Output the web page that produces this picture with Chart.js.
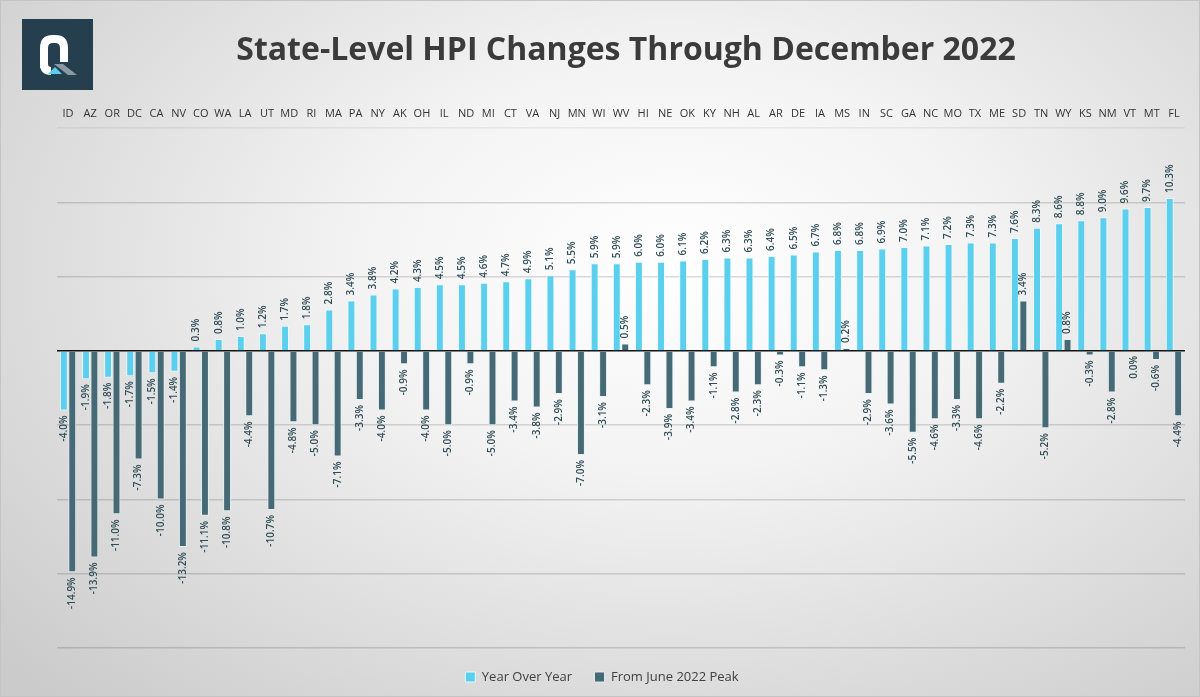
<!DOCTYPE html>
<html>
<head>
<meta charset="utf-8">
<script src="https://cdn.jsdelivr.net/npm/chart.js@4.4.0/dist/chart.umd.min.js"></script>
<style>
  html, body { margin: 0; padding: 0; }
  body {
    width: 1200px; height: 697px; overflow: hidden; position: relative;
    background: radial-gradient(ellipse 75% 85% at 56% 38%, #ffffff 0%, #f3f3f3 35%, #dddddd 70%, #cbcbcb 100%);
  }
  #wrap { position: absolute; left: 0; top: 0; width: 1200px; height: 697px; }
  #logo { position: absolute; left: 22px; top: 19px; width: 71px; height: 71px; }
  #title {
    position: absolute; left: 226px; width: 800px; top: 26px; height: 44px; line-height: 44px;
    text-align: center; font-family: "Open Sans", sans-serif; font-weight: 700; font-size: 32px; color: #3b3b3b;
    white-space: nowrap;
  }
  .frame { position: absolute; inset: 0; border: 1px solid #c4c4c4; pointer-events: none; }
</style>
</head>
<body>
<div id="wrap"><canvas id="c" width="1200" height="697"></canvas></div>
<div id="title"></div>
<svg id="logo" viewBox="0 0 71 71" xmlns="http://www.w3.org/2000/svg">
  <rect x="0" y="0" width="71" height="71" fill="#263f4f"/>
  <path d="M22 49 L22 29 Q22 20 31 20 L33 20 Q42 20 42 29 L42 43" fill="none" stroke="#ffffff" stroke-width="8"/>
  <path d="M22 45 Q22 52 29 52" fill="none" stroke="#ffffff" stroke-width="8"/>
  <polygon points="32,45 41,45 55,56 46,56" fill="#8a9aa3"/>
  <polygon points="33,48 40,55 26,55" fill="#5bcdef"/>
</svg>
<div class="frame"></div>
<script>
const categories = ["ID","AZ","OR","DC","CA","NV","CO","WA","LA","UT","MD","RI","MA","PA","NY","AK","OH","IL","ND","MI","CT","VA","NJ","MN","WI","WV","HI","NE","OK","KY","NH","AL","AR","DE","IA","MS","IN","SC","GA","NC","MO","TX","ME","SD","TN","WY","KS","NM","VT","MT","FL"];
const yearOverYear = [-4.0,-1.9,-1.8,-1.7,-1.5,-1.4,0.3,0.8,1.0,1.2,1.7,1.8,2.8,3.4,3.8,4.2,4.3,4.5,4.5,4.6,4.7,4.9,5.1,5.5,5.9,5.9,6.0,6.0,6.1,6.2,6.3,6.3,6.4,6.5,6.7,6.8,6.8,6.9,7.0,7.1,7.2,7.3,7.3,7.6,8.3,8.6,8.8,9.0,9.6,9.7,10.3];
const fromPeak = [-14.9,-13.9,-11.0,-7.3,-10.0,-13.2,-11.1,-10.8,-4.4,-10.7,-4.8,-5.0,-7.1,-3.3,-4.0,-0.9,-4.0,-5.0,-0.9,-5.0,-3.4,-3.8,-2.9,-7.0,-3.1,0.5,-2.3,-3.9,-3.4,-1.1,-2.8,-2.3,-0.3,-1.1,-1.3,0.2,-2.9,-3.6,-5.5,-4.6,-3.3,-4.6,-2.2,3.4,-5.2,0.8,-0.3,-2.8,0.0,-0.6,-4.4];
const seriesNames = ["Year Over Year", "From June 2022 Peak"];
const titleText = "State-Level HPI Changes Through December 2022";
const yMin = -20, yMax = 15, yStep = 5;

document.getElementById('title').textContent = titleText;

const valueLabels = {
  id: 'valueLabels',
  afterDatasetsDraw(chart) {
    const ctx = chart.ctx;
    ctx.save();
    ctx.font = '600 10px "Open Sans"';
    ctx.fillStyle = '#2f4c57';
    ctx.textBaseline = 'middle';
    chart.data.datasets.forEach((ds, di) => {
      const meta = chart.getDatasetMeta(di);
      meta.data.forEach((el, i) => {
        const v = ds.data[i];
        const txt = v.toFixed(1) + '%';
        ctx.save();
        if (v > 0) {
          ctx.translate(el.x, el.y - 5);
          ctx.rotate(-Math.PI / 2);
          ctx.textAlign = 'left';
        } else {
          ctx.translate(el.x, el.y + 5);
          ctx.rotate(-Math.PI / 2);
          ctx.textAlign = 'right';
        }
        ctx.fillText(txt, 0, 0);
        ctx.restore();
      });
    });
    ctx.restore();
  }
};

new Chart(document.getElementById('c'), {
  type: 'bar',
  data: {
    labels: categories,
    datasets: [
      { label: seriesNames[0], data: yearOverYear, backgroundColor: '#5bd0ee', borderColor: 'rgba(235,250,255,0.9)', borderWidth: 1, barPercentage: 0.94, categoryPercentage: 0.76 },
      { label: seriesNames[1], data: fromPeak, backgroundColor: '#456a75', borderColor: 'rgba(230,240,242,0.9)', borderWidth: 1, barPercentage: 0.94, categoryPercentage: 0.76 }
    ]
  },
  options: {
    responsive: false,
    animation: false,
    layout: { padding: { left: 19, right: 15, top: 99, bottom: 3.5 } },
    plugins: {
      title: { display: false },
      legend: {
        position: 'bottom',
        labels: {
          color: '#404040', font: { family: 'Open Sans', size: 13 },
          boxWidth: 10, boxHeight: 10, padding: 22.5
        }
      },
      tooltip: { enabled: false }
    },
    scales: {
      x: {
        position: 'top',
        grid: { display: false, drawTicks: false, tickLength: 0 },
        border: { display: false },
        ticks: { color: '#333333', font: { family: 'Open Sans', size: 11 }, padding: 8, maxRotation: 0, autoSkip: false }
      },
      y: {
        min: yMin, max: yMax,
        ticks: { stepSize: yStep, display: false },
        border: { display: false },
        grid: {
          color: (c) => c.tick && c.tick.value === 0 ? '#111111' : (c.tick && c.tick.value === yMax ? 'rgba(0,0,0,0.06)' : 'rgba(0,0,0,0.14)'),
          lineWidth: 1.5,
          drawTicks: false
        },
        afterFit(scale) { scale.width = 38; }
      }
    }
  },
  plugins: [valueLabels]
});
</script>
</body>
</html>
